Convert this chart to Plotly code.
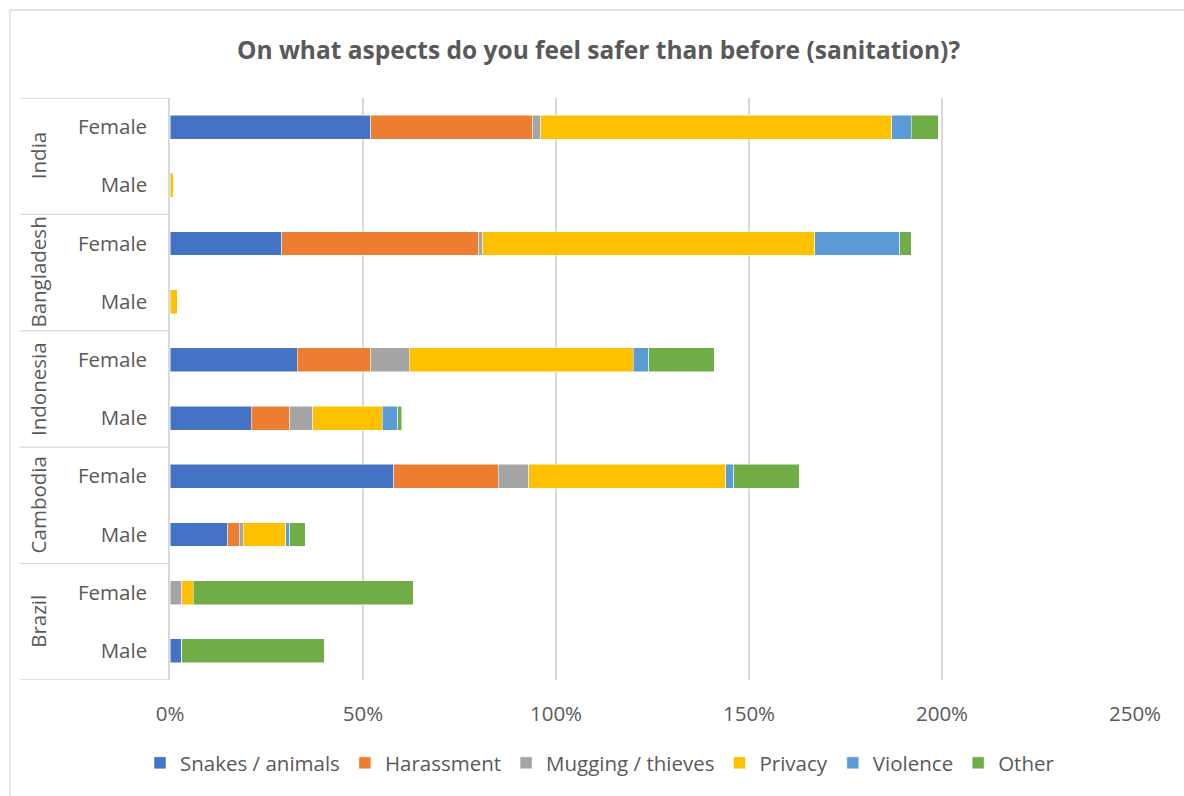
import plotly.graph_objects as go

countries = ["India", "Bangladesh", "Indonesia", "Cambodia", "Brazil"]
genders = ["Female", "Male"]
row_keys = [f"{c} {g}" for c in countries for g in genders]
row_labels = [g for c in countries for g in genders]

series_names = ["Snakes / animals", "Harassment", "Mugging / thieves", "Privacy", "Violence", "Other"]
series_colors = ["#4472C4", "#ED7D31", "#A5A5A5", "#FFC000", "#5B9BD5", "#70AD47"]

# values in percent, row order: India F, India M, Bangladesh F, Bangladesh M, Indonesia F, Indonesia M,
# Cambodia F, Cambodia M, Brazil F, Brazil M
snakes     = [52, 0, 29, 0, 33, 21, 58, 15, 0, 3]
harassment = [42, 0, 51, 0, 19, 10, 27, 3, 0, 0]
mugging    = [2, 0, 1, 0, 10, 6, 8, 1, 3, 0]
privacy    = [91, 1, 86, 2, 58, 18, 51, 11, 3, 0]
violence   = [5, 0, 22, 0, 4, 4, 2, 1, 0, 0]
other      = [7, 0, 3, 0, 17, 1, 17, 4, 57, 37]

series_values = [snakes, harassment, mugging, privacy, violence, other]

FONT = "Open Sans"
TXT = "#595959"
GRID = "#d9d9d9"
FS = 20.5

fig = go.Figure()
for name, color, vals in zip(series_names, series_colors, series_values):
    fig.add_trace(go.Bar(
        y=row_keys, x=[v / 100 for v in vals], name=name, orientation="h",
        marker=dict(color=color, line=dict(width=0.5, color="white")),
    ))

L, R, T, B = 170, 49, 98, 116
W, H = 1184, 796
pw = W - L - R
ph = H - T - B

def px_x(px):
    return (px - L) / pw

def px_y(py):
    return 1 - (py - T) / ph

shapes = []
for k in range(len(countries) + 1):
    yv = -0.5 + 2 * k
    shapes.append(dict(type="line", xref="paper", yref="y", x0=px_x(20), x1=0, y0=yv, y1=yv,
                       line=dict(color=GRID, width=1.3)))
shapes.append(dict(type="rect", xref="paper", yref="paper", x0=px_x(10), x1=px_x(1200),
                   y0=px_y(810), y1=px_y(10), line=dict(color=GRID, width=1.3)))

annotations = []
for i, c in enumerate(countries):
    annotations.append(dict(text=c, xref="paper", yref="y", x=px_x(38), y=2 * i + 0.5,
                            showarrow=False, textangle=-90, xanchor="center", yanchor="middle",
                            font=dict(family=FONT, size=FS, color=TXT)))

fig.update_layout(
    width=W, height=H,
    margin=dict(l=L, r=R, t=T, b=B, autoexpand=False),
    paper_bgcolor="white", plot_bgcolor="white",
    barmode="stack", bargap=0.59,
    title=dict(text="<b>On what aspects do you feel safer than before (sanitation)?</b>",
               x=598.5 / W, xref="container", xanchor="center", y=1 - 50 / H, yref="container",
               yanchor="middle",
               font=dict(family=FONT, size=24.5, color=TXT)),
    xaxis=dict(range=[0, 2.5], tickvals=[0, 0.5, 1, 1.5, 2, 2.5], tickformat=".0%",
               showgrid=True, gridcolor=GRID, gridwidth=1.5, zeroline=False,
               showline=False, ticks="", ticklabelstandoff=19,
               tickfont=dict(family=FONT, size=FS, color=TXT)),
    yaxis=dict(type="category", categoryorder="array", categoryarray=row_keys,
               tickvals=row_keys, ticktext=row_labels, range=[9.5, -0.5],
               showgrid=False, zeroline=False, showline=True, linecolor=GRID, linewidth=1.5,
               ticks="", ticklabelstandoff=17,
               tickfont=dict(family=FONT, size=FS, color=TXT)),
    legend=dict(orientation="h", x=px_x(600), xanchor="center", y=px_y(763), yanchor="middle",
                font=dict(family=FONT, size=FS, color=TXT), traceorder="normal",
                itemwidth=30),
    shapes=shapes, annotations=annotations,
)

fig.write_html("out.html")
